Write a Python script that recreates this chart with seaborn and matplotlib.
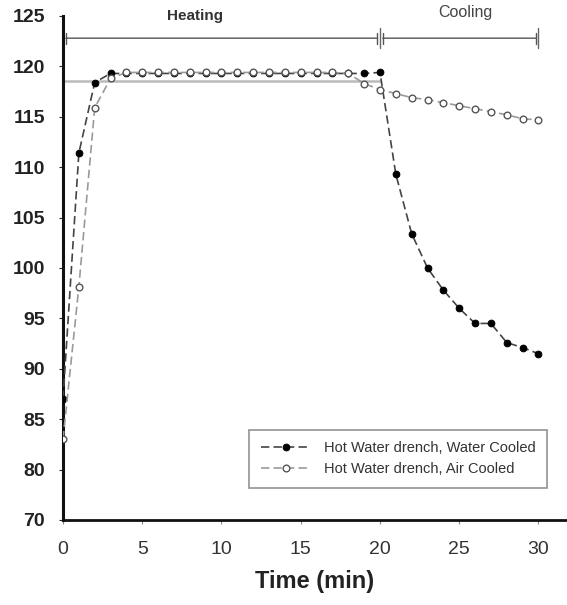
import seaborn as sns
import matplotlib.pyplot as plt
import pandas as pd

# time in minutes, temperature readings
time_min = list(range(0, 31))
water_cooled = [87.0, 111.4, 118.4, 119.3, 119.3, 119.3, 119.3, 119.3, 119.3, 119.3,
                119.3, 119.3, 119.3, 119.3, 119.3, 119.3, 119.3, 119.3, 119.3, 119.3,
                119.4, 109.3, 103.4, 100.0, 97.8, 96.0, 94.5, 94.5, 92.6, 92.1, 91.5]
air_cooled = [83.0, 98.1, 115.9, 118.8, 119.4, 119.4, 119.4, 119.4, 119.4, 119.4,
              119.4, 119.4, 119.4, 119.4, 119.4, 119.4, 119.4, 119.4, 119.3, 118.3,
              117.7, 117.3, 116.9, 116.7, 116.4, 116.1, 115.8, 115.5, 115.2, 114.8, 114.7]
setpoint = 118.6

series_names = ["Hot Water drench, Water Cooled", "Hot Water drench, Air Cooled"]
ytick_pos = [75, 80, 85, 90, 95, 100, 105, 110, 115, 120, 125]
ytick_lab = ["70", "80", "85", "90", "95", "100", "105", "110", "115", "120", "125"]
xtick_pos = [0, 5, 10, 15, 20, 25, 30]

df = pd.DataFrame({"time": time_min, "water": water_cooled, "air": air_cooled})

sns.set_style("ticks")
plt.rcParams["font.family"] = ["Liberation Sans", "DejaVu Sans"]

fig = plt.figure(figsize=(5.67, 6.05), dpi=100)
ax = fig.add_axes([63 / 567, 85 / 605, 504 / 567, 504 / 605])

# gray reference line during heating
ax.plot([0, 20], [setpoint, setpoint], color="#bbbbbb", lw=1.8, zorder=1)

sns.lineplot(data=df, x="time", y="water", ax=ax, color="#444444",
             linestyle=(0, (5, 2.5)), lw=1.2, marker="o", markersize=4.8,
             markerfacecolor="black", markeredgecolor="black",
             label=series_names[0], zorder=3)
sns.lineplot(data=df, x="time", y="air", ax=ax, color="#9a9a9a",
             linestyle=(0, (5, 2.5)), lw=1.2, marker="o", markersize=4.8,
             markerfacecolor="white", markeredgecolor="#555555",
             markeredgewidth=1.0, label=series_names[1], zorder=4)

ax.set_xlim(0, 31.8)
ax.set_ylim(75, 125)
ax.set_yticks(ytick_pos)
ax.set_yticklabels(ytick_lab, fontsize=14, fontweight="bold", color="#222222")
ax.set_xticks(xtick_pos)
ax.set_xticklabels([str(v) for v in xtick_pos], fontsize=14, color="#333333")
ax.tick_params(axis="x", length=3, color="#888888", pad=12)
ax.tick_params(axis="y", length=3, pad=10)
ax.set_xlabel("Time (min)", fontsize=17, fontweight="bold", color="#222222", labelpad=9)
ax.set_ylabel("")

sns.despine(ax=ax)
ax.spines["left"].set_linewidth(2.2)
ax.spines["bottom"].set_linewidth(2.0)
ax.spines["left"].set_color("#111111")
ax.spines["bottom"].set_color("#111111")

# Heating / Cooling phase marks
arrow_y = 122.8
ax.annotate("", xy=(0, arrow_y), xytext=(20, arrow_y),
            arrowprops=dict(arrowstyle="|-|", color="#555555", lw=1,
                            mutation_scale=4), annotation_clip=False)
ax.annotate("", xy=(20, arrow_y), xytext=(30, arrow_y),
            arrowprops=dict(arrowstyle="|-|", color="#555555", lw=1,
                            mutation_scale=4), annotation_clip=False)
ax.plot([20, 20], [121.8, 123.8], color="#666666", lw=1, clip_on=False)
ax.plot([30, 30], [121.8, 123.8], color="#666666", lw=1, clip_on=False)
ax.text(8.3, 125.0, "Heating", ha="center", va="center", fontsize=11,
        fontweight="bold", color="#333333", clip_on=False)
ax.text(25.4, 125.3, "Cooling", ha="center", va="center", fontsize=11.5,
        color="#444444", clip_on=False)

leg = ax.legend(loc="lower right", bbox_to_anchor=(0.975, 0.05), fontsize=10.5,
                frameon=True, fancybox=False, shadow=False, handlelength=3.4,
                borderpad=0.8, labelspacing=0.45, handletextpad=0.9)
leg.get_frame().set_edgecolor("#777777")
leg.get_frame().set_linewidth(1.2)
for t in leg.get_texts():
    t.set_color("#333333")

fig.savefig("out.png", dpi=100)
